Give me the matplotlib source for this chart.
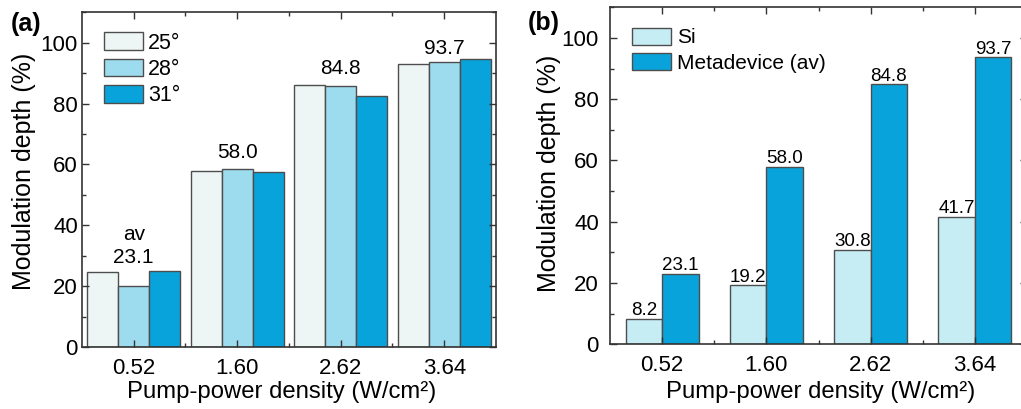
import numpy as np
import matplotlib
matplotlib.use("Agg")
import matplotlib.pyplot as plt
from matplotlib.ticker import MultipleLocator, FixedLocator

plt.rcParams['font.family'] = ['Liberation Sans', 'DejaVu Sans']

# data
densities = ["0.52", "1.60", "2.62", "3.64"]
angles = ["25°", "28°", "31°"]
depth_25 = [24.6, 57.9, 86.1, 93.0]
depth_28 = [20.0, 58.5, 85.8, 93.6]
depth_31 = [25.1, 57.6, 82.5, 94.6]
si_depth = [8.2, 19.2, 30.8, 41.7]
metadevice_av = [23.1, 58.0, 84.8, 93.7]

# colours
c25 = "#eef6f5"
c28 = "#9ddcee"
c31 = "#09a3db"
c_si = "#c6ecf4"
edge = "#4d4d4d"
spine_col = "#333333"

fig = plt.figure(figsize=(10.21, 4.09), dpi=100)
ax1 = fig.add_axes([0.0803, 0.1516, 0.4055, 0.8183])
ax2 = fig.add_axes([0.5975, 0.1582, 0.4084, 0.8240])


def style_axes(ax, ypad):
    ax.set_xlim(-0.5, 3.5)
    ax.set_ylim(0, 110)
    ax.xaxis.set_major_locator(FixedLocator(range(len(densities))))
    ax.xaxis.set_minor_locator(FixedLocator([0.5, 1.5, 2.5]))
    ax.set_xticklabels(densities)
    ax.yaxis.set_major_locator(MultipleLocator(20))
    ax.yaxis.set_minor_locator(MultipleLocator(10))
    ax.tick_params(which="both", direction="in", top=True, right=True,
                   color=spine_col, width=1)
    ax.tick_params(which="major", length=5, labelsize=16)
    ax.tick_params(which="minor", length=3)
    ax.tick_params(axis="x", pad=8)
    ax.tick_params(axis="y", pad=ypad)
    for s in ax.spines.values():
        s.set_color(spine_col)
        s.set_linewidth(1.2)
    ax.set_ylabel("Modulation depth (%)", fontsize=18)
    ax.set_xlabel("Pump-power density (W/cm²)", fontsize=17.2)
    ax.yaxis.label.set_verticalalignment("center")
    ax.xaxis.label.set_verticalalignment("center")


x = np.arange(len(densities))

# panel (a): three incidence angles
w = 0.3
ax1.bar(x - w, depth_25, w, color=c25, edgecolor=edge, linewidth=1, label=angles[0], zorder=0)
ax1.bar(x, depth_28, w, color=c28, edgecolor=edge, linewidth=1, label=angles[1], zorder=0)
ax1.bar(x + w, depth_31, w, color=c31, edgecolor=edge, linewidth=1, label=angles[2], zorder=0)
style_axes(ax1, 3.0)
ax1.xaxis.set_label_coords(0.483, -0.134)
ax1.yaxis.set_label_coords(-0.140, 0.524)

label_y = [27.6, 62.0, 89.7, 96.3]
for i in range(len(densities)):
    ax1.text(x[i], label_y[i], "%.1f" % metadevice_av[i], ha="center", va="baseline", fontsize=15)
ax1.text(x[0], 35.2, "av", ha="center", va="baseline", fontsize=15)

ax1.legend(loc="upper left", bbox_to_anchor=(0.053, 0.94), frameon=False, fontsize=15.5,
           handlelength=1.8, handleheight=0.88, handletextpad=0.25, labelspacing=0.24,
           borderpad=0, borderaxespad=0)

# panel (b): bare Si vs metadevice
w = 0.35
ax2.bar(x - w / 2, si_depth, w, color=c_si, edgecolor=edge, linewidth=1, label="Si", zorder=0)
ax2.bar(x + w / 2, metadevice_av, w, color=c31, edgecolor=edge, linewidth=1, label="Metadevice (av)", zorder=0)
style_axes(ax2, 8.0)
ax2.xaxis.set_label_coords(0.506, -0.1415)
ax2.yaxis.set_label_coords(-0.146, 0.507)

for i in range(len(densities)):
    ax2.text(x[i] - w / 2, si_depth[i] + 1.2, "%.1f" % si_depth[i], ha="center", va="baseline", fontsize=13.5)
    ax2.text(x[i] + w / 2, metadevice_av[i] + 1.2, "%.1f" % metadevice_av[i], ha="center", va="baseline", fontsize=13.5)

ax2.legend(loc="upper left", bbox_to_anchor=(0.053, 0.94), frameon=False, fontsize=15,
           handlelength=1.85, handleheight=0.9, handletextpad=0.3, labelspacing=0.26,
           borderpad=0, borderaxespad=0)

fig.text(26.5 / 1021, 1 - 24 / 409, "(a)", fontsize=18, fontweight="bold", ha="center", va="center")
fig.text(543.5 / 1021, 1 - 23 / 409, "(b)", fontsize=18, fontweight="bold", ha="center", va="center")

fig.savefig("out.png", dpi=100)
